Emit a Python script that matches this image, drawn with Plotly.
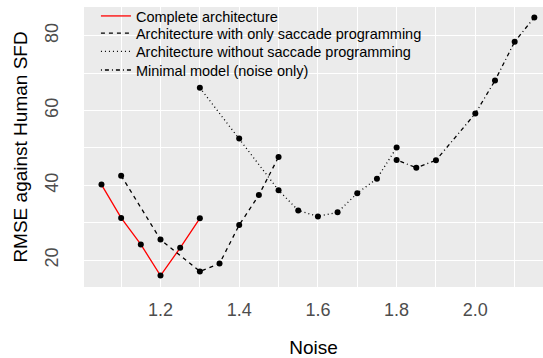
import plotly.graph_objects as go

# Noise level vs RMSE for each model variant
complete_x = [1.05, 1.10, 1.15, 1.20, 1.25, 1.30]
complete_y = [40.2, 31.3, 24.2, 15.9, 23.3, 31.2]

sacc_only_x = [1.10, 1.20, 1.30, 1.35, 1.40, 1.45, 1.50]
sacc_only_y = [42.6, 25.5, 17.0, 19.1, 29.4, 37.4, 47.6]

no_sacc_x = [1.30, 1.40, 1.50, 1.55, 1.60, 1.65, 1.70, 1.75, 1.80]
no_sacc_y = [66.1, 52.5, 38.7, 33.3, 31.7, 32.8, 37.9, 41.8, 50.1]

minimal_x = [1.80, 1.85, 1.90, 2.00, 2.05, 2.10, 2.15]
minimal_y = [46.8, 44.7, 46.7, 59.2, 68.0, 78.4, 84.9]

series = [
    ("Complete architecture", complete_x, complete_y, "#FF0000", "solid"),
    ("Architecture with only saccade programming", sacc_only_x, sacc_only_y, "black", "4px,4px"),
    ("Architecture without saccade programming", no_sacc_x, no_sacc_y, "black", "1px,3px"),
    ("Minimal model (noise only)", minimal_x, minimal_y, "black", "1px,3px,4px,3px"),
]

FONT = "Liberation Sans, Arial, sans-serif"

# one legend per entry so the rows can sit tightly stacked
legend_ids = ["legend", "legend2", "legend3", "legend4"]
legend_tops = [1.025, 0.960, 0.895, 0.829]

fig = go.Figure()
for (name, xs, ys, color, dash), lid in zip(series, legend_ids):
    fig.add_trace(go.Scatter(
        x=xs, y=ys, mode="lines", name=name, legend=lid,
        line=dict(color=color, width=1.3, dash=dash),
    ))
for name, xs, ys, color, dash in series:
    fig.add_trace(go.Scatter(
        x=xs, y=ys, mode="markers", showlegend=False, hoverinfo="skip",
        marker=dict(color="black", size=6),
    ))

legend_style = dict(
    x=0.026, xanchor="left", yanchor="top",
    bgcolor="rgba(0,0,0,0)", font=dict(size=14.5, color="black"),
)

fig.update_layout(
    width=543, height=358,
    margin=dict(l=84, r=0, t=6, b=71),
    paper_bgcolor="white",
    plot_bgcolor="#EBEBEB",
    font=dict(family=FONT, color="black"),
    xaxis=dict(
        range=[1.0056, 2.172], dtick=0.2, tick0=1.0,
        showgrid=True, gridcolor="white", gridwidth=1.1,
        minor=dict(dtick=0.1, tick0=1.0, showgrid=True, gridcolor="white", gridwidth=0.5),
        zeroline=False, showline=False, ticks="",
        tickformat=".1f",
        tickfont=dict(size=18, color="#4D4D4D"),
        ticklabelstandoff=10,
        title=dict(text="Noise", font=dict(size=19, color="black"), standoff=22),
    ),
    yaxis=dict(
        range=[12.83, 87.68], dtick=20, tick0=0,
        showgrid=True, gridcolor="white", gridwidth=1.1,
        minor=dict(dtick=10, tick0=0, showgrid=True, gridcolor="white", gridwidth=0.5),
        zeroline=False, showline=False, ticks="",
        tickangle=-90,
        tickfont=dict(size=18, color="#4D4D4D"),
        ticklabelstandoff=21,
        title=dict(text="RMSE against Human SFD", font=dict(size=19, color="black"), standoff=9),
    ),
)
for lid, top in zip(legend_ids, legend_tops):
    fig.update_layout({lid: dict(legend_style, y=top)})

fig.write_html("out.html")
